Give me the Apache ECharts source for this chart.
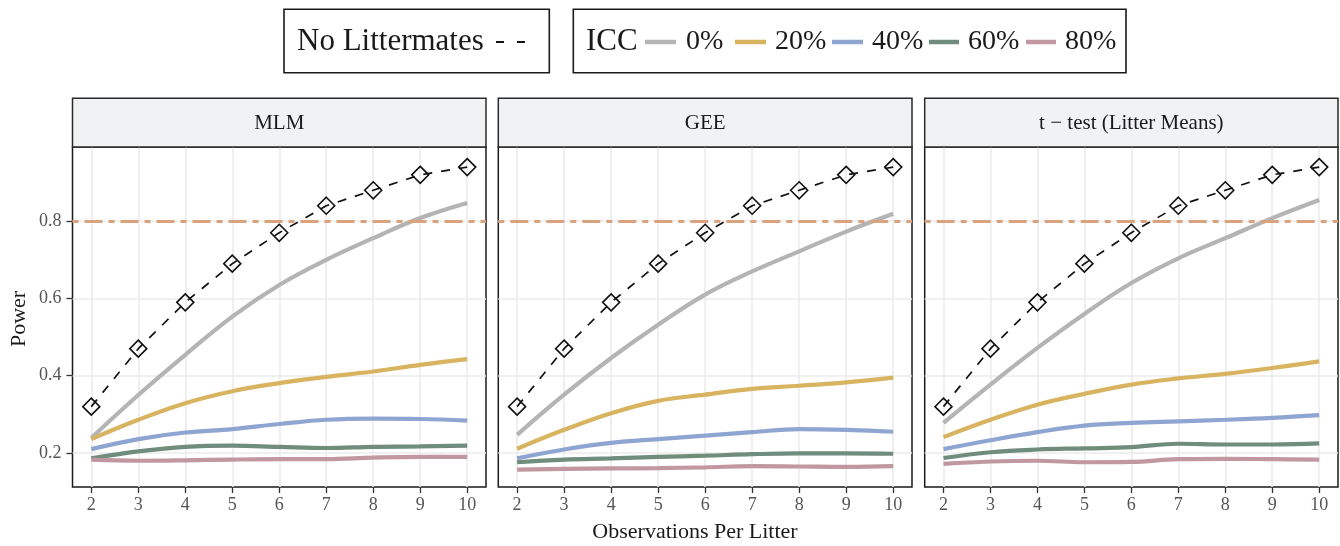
<!DOCTYPE html>
<html>
<head>
<meta charset="utf-8">
<script src="https://cdn.jsdelivr.net/npm/echarts@6/dist/echarts.min.js"></script>
<style>
html,body{margin:0;padding:0;background:#fff;}
#chart{width:1340px;height:546px;}
</style>
</head>
<body>
<div id="chart"></div>
<script>
// ---------------- DATA ----------------
const observations = [2, 3, 4, 5, 6, 7, 8, 9, 10];
const panelTitles = ['MLM', 'GEE', 't − test (Litter Means)'];
const iccLabels = ['0%', '20%', '40%', '60%', '80%'];
const yTickValues = [0.2, 0.4, 0.6, 0.8];
const targetPower = 0.8;
const noLittermatesLabel = 'No Littermates';
const iccTitle = 'ICC';
const xTitle = 'Observations Per Litter';
const yTitle = 'Power';

const noLittermates = [0.32, 0.47, 0.59, 0.69, 0.77, 0.84, 0.88, 0.92, 0.94];

const mlm0  = [0.239, 0.350, 0.454, 0.553, 0.635, 0.700, 0.756, 0.808, 0.847];
const mlm20 = [0.236, 0.286, 0.329, 0.360, 0.381, 0.397, 0.411, 0.428, 0.443];
const mlm40 = [0.210, 0.236, 0.253, 0.262, 0.275, 0.286, 0.289, 0.288, 0.284];
const mlm60 = [0.186, 0.204, 0.216, 0.219, 0.216, 0.213, 0.216, 0.217, 0.219];
const mlm80 = [0.183, 0.180, 0.181, 0.183, 0.184, 0.184, 0.188, 0.190, 0.190];

const gee0  = [0.247, 0.351, 0.446, 0.532, 0.610, 0.670, 0.722, 0.773, 0.819];
const gee20 = [0.211, 0.260, 0.303, 0.335, 0.351, 0.366, 0.374, 0.383, 0.395];
const gee40 = [0.186, 0.209, 0.226, 0.236, 0.245, 0.254, 0.262, 0.260, 0.255];
const gee60 = [0.176, 0.183, 0.186, 0.190, 0.193, 0.197, 0.199, 0.199, 0.198];
const gee80 = [0.157, 0.159, 0.160, 0.161, 0.163, 0.166, 0.165, 0.164, 0.166];

const tt0  = [0.278, 0.377, 0.472, 0.560, 0.640, 0.704, 0.756, 0.808, 0.855];
const tt20 = [0.241, 0.286, 0.325, 0.353, 0.377, 0.393, 0.405, 0.420, 0.437];
const tt40 = [0.210, 0.233, 0.254, 0.271, 0.278, 0.282, 0.286, 0.291, 0.298];
const tt60 = [0.187, 0.202, 0.209, 0.212, 0.215, 0.224, 0.222, 0.222, 0.225];
const tt80 = [0.172, 0.178, 0.180, 0.176, 0.177, 0.184, 0.185, 0.184, 0.183];

const panelSeries = [
  [mlm0, mlm20, mlm40, mlm60, mlm80],
  [gee0, gee20, gee40, gee60, gee80],
  [tt0, tt20, tt40, tt60, tt80]
];

// ---------------- STYLE / LAYOUT ----------------
const iccColors = ['#b4b4b4', '#d8b360', '#8fa5d1', '#6f8c7d', '#c197a2'];
const refColor = '#dba27e';
const serif = '"Liberation Serif", "DejaVu Serif", serif';
const panelLefts = [72.5, 498.3, 924.7];
const panelWidths = [413.5, 413.7, 413.3];
const plotTop = 147, plotBottom = 487;
const stripTop = 98.3;
const xRange = [1.6, 10.4];
const yRange = [0.112, 0.992];

const legendLayout = {
  box1: {x: 284, y: 9.3, w: 265.3, h: 63.4},
  box2: {x: 573.3, y: 9.3, w: 552.7, h: 63.4},
  textY: 42,
  nlTextX: 297,
  nlDash: [496, 527],
  iccTextX: 586,
  lineX: [[645, 676], [735, 766], [832, 863], [929, 959], [1026, 1056]],
  labelX: [686, 775, 872, 968, 1065]
};

const pairs = arr => observations.map((x, i) => [x, arr[i]]);

const grids = [], xAxes = [], yAxes = [], series = [], graphics = [];

panelTitles.forEach((title, p) => {
  grids.push({
    left: panelLefts[p], top: plotTop, width: panelWidths[p], height: plotBottom - plotTop,
    show: true, borderColor: '#1a1a1a', borderWidth: 1.5, backgroundColor: '#fff'
  });
  xAxes.push({
    gridIndex: p, type: 'value', min: xRange[0], max: xRange[1],
    axisLine: {show: false},
    axisTick: {show: true, length: 6, customValues: observations, lineStyle: {color: '#333', width: 1.3}},
    axisLabel: {customValues: observations, color: '#555', fontSize: 18, fontFamily: serif, margin: 9},
    splitLine: {show: true, lineStyle: {color: '#ebebeb', width: 1.6}}
  });
  yAxes.push({
    gridIndex: p, type: 'value', min: yRange[0], max: yRange[1],
    axisLine: {show: false},
    axisTick: {show: p === 0, length: 6, customValues: yTickValues, lineStyle: {color: '#333', width: 1.3}},
    axisLabel: {show: p === 0, customValues: yTickValues, color: '#555', fontSize: 18, fontFamily: serif, margin: 11,
      formatter: v => v.toFixed(1)},
    splitLine: {show: true, lineStyle: {color: '#ebebeb', width: 1.6}}
  });

  // reference line
  series.push({
    type: 'line', xAxisIndex: p, yAxisIndex: p, data: [], silent: true, animation: false,
    markLine: {
      silent: true, symbol: 'none', animation: false, label: {show: false},
      lineStyle: {color: refColor, width: 3, type: [6, 6, 18, 6], opacity: 1},
      emphasis: {disabled: true},
      data: [{yAxis: targetPower}]
    }
  });

  panelSeries[p].forEach((vals, k) => {
    series.push({
      type: 'line', name: iccLabels[k], xAxisIndex: p, yAxisIndex: p,
      data: pairs(vals), smooth: 0.4, showSymbol: false, symbol: 'none',
      lineStyle: {color: iccColors[k], width: 4.2},
      itemStyle: {color: iccColors[k]},
      animation: false, silent: true
    });
  });

  series.push({
    type: 'line', name: noLittermatesLabel, xAxisIndex: p, yAxisIndex: p,
    data: pairs(noLittermates), smooth: false,
    symbol: 'diamond', symbolSize: 17, showSymbol: true,
    lineStyle: {color: '#111', width: 1.7, type: [9, 9]},
    itemStyle: {color: 'rgba(255,255,255,0)', borderColor: '#111', borderWidth: 1.6},
    animation: false, silent: true, z: 5
  });

  // strip
  graphics.push({
    type: 'rect', z: 10,
    shape: {x: panelLefts[p], y: stripTop, width: panelWidths[p], height: plotTop - stripTop},
    style: {fill: '#f1f2f4', stroke: '#2a2a2a', lineWidth: 1.5}
  });
  graphics.push({
    type: 'text', z: 11,
    x: panelLefts[p] + panelWidths[p] / 2, y: (stripTop + plotTop) / 2 + 0.5,
    style: {text: title, fill: '#1a1a1a', font: '21px ' + serif, textAlign: 'center', textVerticalAlign: 'middle'}
  });
});

// axis titles
graphics.push({
  type: 'text', x: 695, y: 532,
  style: {text: xTitle, fill: '#1a1a1a', font: '22px ' + serif, textAlign: 'center', textVerticalAlign: 'middle'}
});
graphics.push({
  type: 'text', x: 19, y: 319, rotation: Math.PI / 2,
  style: {text: yTitle, fill: '#1a1a1a', font: '22px ' + serif, textAlign: 'center', textVerticalAlign: 'middle'}
});

// legends
const L = legendLayout;
graphics.push({type: 'rect', shape: {x: L.box1.x, y: L.box1.y, width: L.box1.w, height: L.box1.h},
  style: {fill: '#fff', stroke: '#1a1a1a', lineWidth: 1.6}});
graphics.push({type: 'text', x: L.nlTextX, y: L.textY,
  style: {text: noLittermatesLabel, fill: '#1a1a1a', font: '31px ' + serif, textAlign: 'left', textVerticalAlign: 'middle'}});
graphics.push({type: 'line', shape: {x1: L.nlDash[0], y1: L.textY, x2: L.nlDash[1], y2: L.textY},
  style: {stroke: '#111', lineWidth: 2, lineDash: [8, 13]}});

graphics.push({type: 'rect', shape: {x: L.box2.x, y: L.box2.y, width: L.box2.w, height: L.box2.h},
  style: {fill: '#fff', stroke: '#1a1a1a', lineWidth: 1.6}});
graphics.push({type: 'text', x: L.iccTextX, y: L.textY,
  style: {text: iccTitle, fill: '#1a1a1a', font: '31px ' + serif, textAlign: 'left', textVerticalAlign: 'middle'}});
iccLabels.forEach((lab, k) => {
  graphics.push({type: 'line', shape: {x1: L.lineX[k][0], y1: L.textY, x2: L.lineX[k][1], y2: L.textY},
    style: {stroke: iccColors[k], lineWidth: 4.5}});
  graphics.push({type: 'text', x: L.labelX[k], y: L.textY,
    style: {text: lab, fill: '#1a1a1a', font: '28px ' + serif, textAlign: 'left', textVerticalAlign: 'middle'}});
});

const chart = echarts.init(document.getElementById('chart'), null, {renderer: 'canvas'});
chart.setOption({
  animation: false,
  backgroundColor: '#fff',
  grid: grids,
  xAxis: xAxes,
  yAxis: yAxes,
  series: series,
  graphic: graphics
});
</script>
</body>
</html>
